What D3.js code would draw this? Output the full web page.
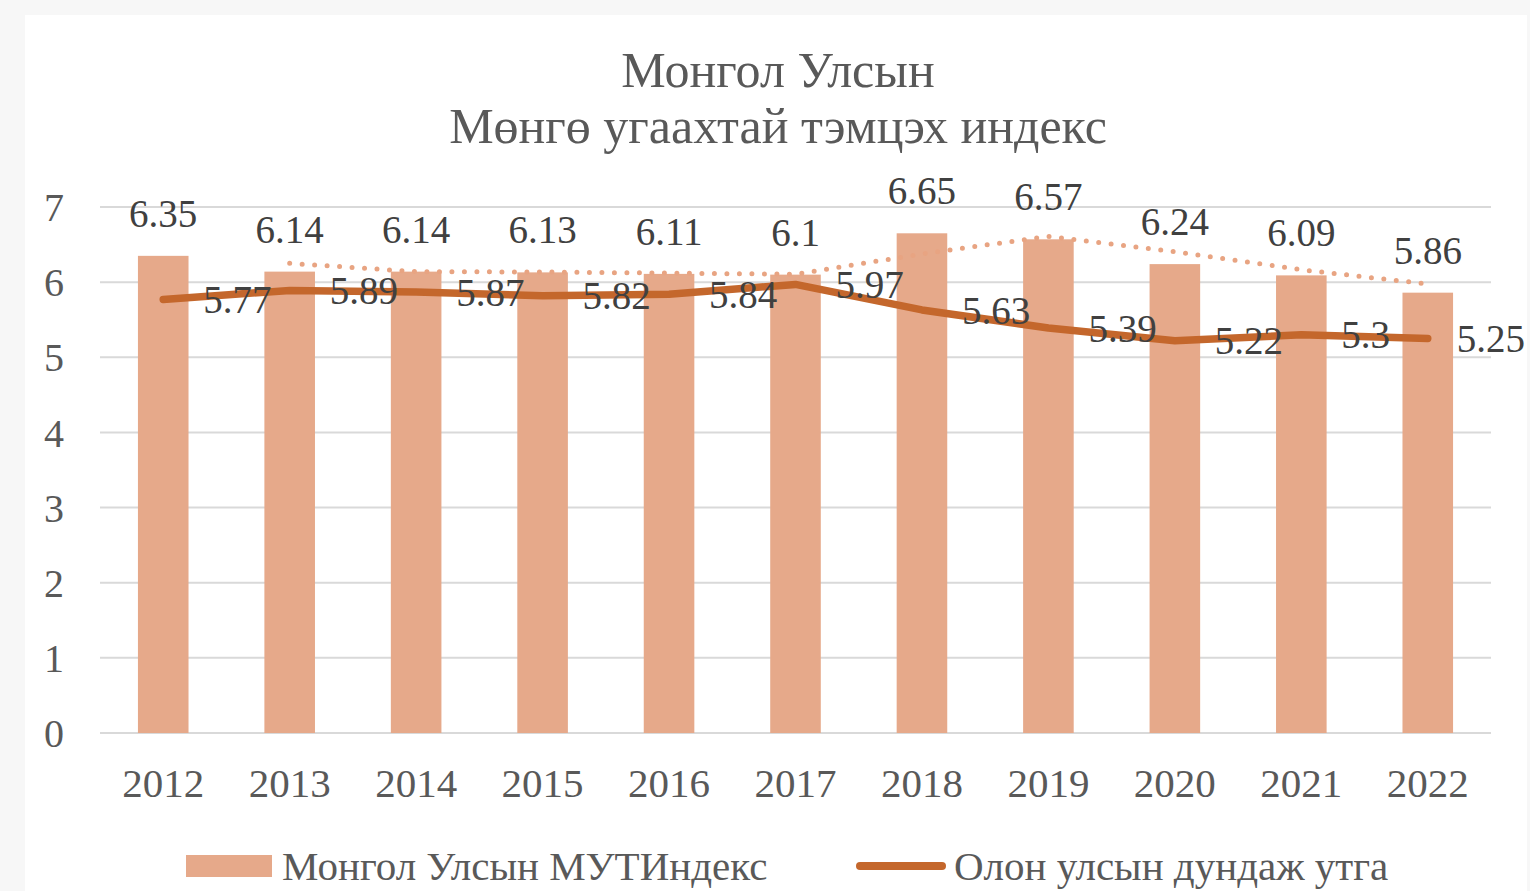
<!DOCTYPE html>
<html>
<head>
<meta charset="utf-8">
<script src="https://cdn.jsdelivr.net/npm/d3@7"></script>
<style>
  html, body { margin: 0; padding: 0; background: #f7f7f7; }
  svg { display: block; }
</style>
</head>
<body>
<svg id="chart" width="1530" height="891"></svg>
<script>
const years = ["2012","2013","2014","2015","2016","2017","2018","2019","2020","2021","2022"];
const mongoliaIndex = [6.35, 6.14, 6.14, 6.13, 6.11, 6.1, 6.65, 6.57, 6.24, 6.09, 5.86];
const intlAverage = [5.77, 5.89, 5.87, 5.82, 5.84, 5.97, 5.63, 5.39, 5.22, 5.3, 5.25];
const trendValues = [null, 6.25, 6.14, 6.135, 6.12, 6.105, 6.375, 6.61, 6.405, 6.165, 5.975];
const yTicks = [0, 1, 2, 3, 4, 5, 6, 7];
const titleLines = ["Монгол Улсын", "Мөнгө угаахтай тэмцэх индекс"];
const legendLabels = ["Монгол Улсын МУТИндекс", "Олон улсын дундаж утга"];

const svg = d3.select("#chart");
const FONT = "'Liberation Serif', 'Times New Roman', serif";
const barColor = "#E6A98A";
const lineColor = "#C4672C";
const dotColor = "#E8A482";
const axisText = "#595959";
const labelText = "#404040";

svg.append("rect").attr("x", 25).attr("y", 15).attr("width", 1502).attr("height", 876).attr("fill", "#ffffff");

const x = d3.scaleBand().domain(years).range([100, 1491]).paddingInner(0.6).paddingOuter(0.3);
const y = d3.scaleLinear().domain([0, 7]).range([733, 207]);
const cx = d => x(d) + x.bandwidth() / 2;

// title
svg.append("g").selectAll("text").data(titleLines).join("text")
  .attr("x", 778).attr("y", (d, i) => 87 + i * 56)
  .attr("text-anchor", "middle")
  .attr("font-family", FONT).attr("font-size", 50)
  .attr("fill", axisText).text(d => d);

// gridlines
svg.append("g").selectAll("line").data(yTicks).join("line")
  .attr("x1", 100).attr("x2", 1491)
  .attr("y1", d => y(d)).attr("y2", d => y(d))
  .attr("stroke", "#d9d9d9").attr("stroke-width", 2);

// y axis
const yAxis = d3.axisLeft(y).tickValues(yTicks).tickSize(0).tickPadding(0).tickFormat(d3.format("d"));
const yg = svg.append("g").attr("transform", "translate(64,0)").call(yAxis);
yg.select(".domain").remove();
yg.selectAll("text").attr("font-family", FONT).attr("font-size", 40).attr("fill", axisText).attr("dy", "0.34em");

// x axis
const xAxis = d3.axisBottom(x).tickSize(0).tickPadding(0);
const xg = svg.append("g").attr("transform", "translate(0,733)").call(xAxis);
xg.select(".domain").remove();
xg.selectAll("text").attr("font-family", FONT).attr("font-size", 41).attr("fill", axisText).attr("dy", "0").attr("y", 64);

// bars
svg.append("g").selectAll("rect").data(years).join("rect")
  .attr("x", d => x(d)).attr("width", x.bandwidth())
  .attr("y", (d, i) => y(mongoliaIndex[i]))
  .attr("height", (d, i) => y(0) - y(mongoliaIndex[i]))
  .attr("fill", barColor);

// dotted trend
const trendLine = d3.line().defined(d => d[1] != null).x(d => cx(d[0])).y(d => y(d[1]));
svg.append("path").datum(years.map((d, i) => [d, trendValues[i]]))
  .attr("d", trendLine).attr("fill", "none")
  .attr("stroke", dotColor).attr("stroke-width", 5)
  .attr("stroke-linecap", "round").attr("stroke-dasharray", "0 12.5");

// average line
const avgLine = d3.line().x(d => cx(d[0])).y(d => y(d[1]));
svg.append("path").datum(years.map((d, i) => [d, intlAverage[i]]))
  .attr("d", avgLine).attr("fill", "none")
  .attr("stroke", lineColor).attr("stroke-width", 7.5)
  .attr("stroke-linecap", "round").attr("stroke-linejoin", "round");

// bar labels
svg.append("g").selectAll("text").data(years).join("text")
  .attr("x", d => cx(d)).attr("y", (d, i) => y(mongoliaIndex[i]) - 29)
  .attr("text-anchor", "middle")
  .attr("font-family", FONT).attr("font-size", 39).attr("fill", labelText)
  .text((d, i) => mongoliaIndex[i]);

// line labels
svg.append("g").selectAll("text").data(years).join("text")
  .attr("x", (d, i) => cx(d) + (i === years.length - 1 ? 29 : 40)).attr("y", (d, i) => y(intlAverage[i]))
  .attr("dy", "0.35em")
  .attr("font-family", FONT).attr("font-size", 39).attr("fill", labelText)
  .text((d, i) => intlAverage[i]);

// legend
const lg = svg.append("g");
lg.append("rect").attr("x", 186).attr("y", 855).attr("width", 86).attr("height", 22).attr("fill", barColor);
lg.append("text").attr("x", 282).attr("y", 880).attr("font-family", FONT).attr("font-size", 41).attr("fill", axisText).text(legendLabels[0]);
lg.append("line").attr("x1", 860).attr("x2", 942).attr("y1", 866).attr("y2", 866)
  .attr("stroke", lineColor).attr("stroke-width", 8).attr("stroke-linecap", "round");
lg.append("text").attr("x", 954).attr("y", 880).attr("font-family", FONT).attr("font-size", 41).attr("fill", axisText).text(legendLabels[1]);
</script>
</body>
</html>
